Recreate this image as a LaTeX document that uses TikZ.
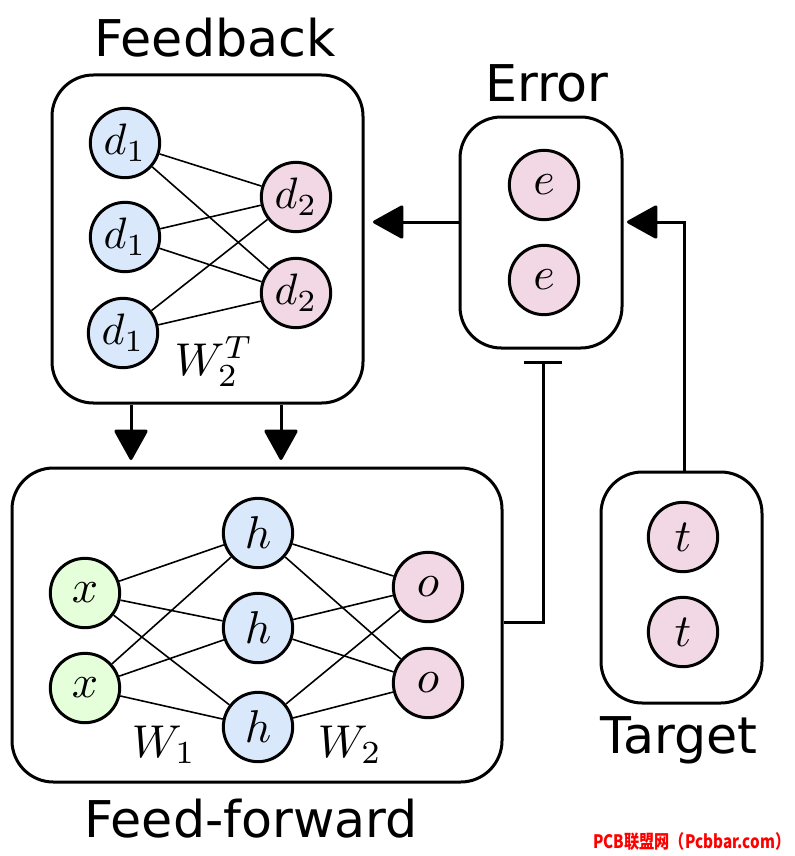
\documentclass[tikz,border=0pt]{standalone}
\usepackage{fontspec}
\newfontfamily\labfont{DejaVu Sans}
\newfontfamily\cjk{Noto Sans CJK SC}
\usetikzlibrary{arrows.meta,fit,calc}
\definecolor{nblue}{RGB}{218,232,252}
\definecolor{npink}{RGB}{242,216,228}
\definecolor{ngreen}{RGB}{228,255,218}
\definecolor{wmred}{RGB}{255,0,0}
\newcommand{\nmath}[1]{\scalebox{3.45}{$#1$}}
\newcommand{\dmath}[1]{\scalebox{3.3}{$#1$}}
\begin{document}
\begin{tikzpicture}[x=0.75pt,y=-0.75pt,
  box/.style={draw,line width=2.25pt,rounded corners=31pt,inner sep=0pt},
  neuron/.style={circle,draw,line width=2.25pt,minimum size=52pt,inner sep=0pt},
  wire/.style={line width=1.2pt},
  title/.style={anchor=base,font=\labfont\fontsize{38}{40}\selectfont},
  wlabel/.style={anchor=base,inner sep=0pt},
  conn/.style={line width=2.25pt},
  arr/.style={conn,-{Triangle[length=24pt,width=26pt,round]}},
  barend/.style={conn,-{Bar[width=28pt]}}]
\useasboundingbox (0,0) rectangle (794,856);

% boxes
\node[box,fit={(52,75) (363,403)}] (fb) {};
\node[box,fit={(460,117) (622,348)}] (err) {};
\node[box,fit={(12,468) (502,782)}] (ff) {};
\node[box,fit={(601,472) (762,703)}] (tg) {};

% titles
\node[title] (tfb) at (215,57) {Feedback};
\node[title] (terr) at (547,102) {Error};
\node[title] (tff) at (251,837) {Feed-forward};
\node[title] (ttg) at (679,753) {Target};

% feedback net
\node[neuron,fill=nblue] (d1a) at (125,143) {\dmath{d_1}};
\node[neuron,fill=nblue] (d1b) at (125,237) {\dmath{d_1}};
\node[neuron,fill=nblue] (d1c) at (123,333) {\dmath{d_1}};
\node[neuron,fill=npink] (d2a) at (296,197) {\dmath{d_2}};
\node[neuron,fill=npink] (d2b) at (296,293) {\dmath{d_2}};
\foreach \a in {d1a,d1b,d1c}{\foreach \b in {d2a,d2b}{\draw[wire] (\a) -- (\b);}}
\node[wlabel] (wt) at (214,375) {\nmath{W_2^T}};

% error
\node[neuron,fill=npink] (e1) at (544,185) {\nmath{e}};
\node[neuron,fill=npink] (e2) at (544,280) {\nmath{e}};

% target
\node[neuron,fill=npink] (t1) at (683,537) {\nmath{t}};
\node[neuron,fill=npink] (t2) at (683,632) {\nmath{t}};

% feed-forward net
\node[neuron,fill=ngreen] (x1) at (85,593) {\nmath{x}};
\node[neuron,fill=ngreen] (x2) at (85,688) {\nmath{x}};
\node[neuron,fill=nblue] (h1) at (258,533) {\nmath{h}};
\node[neuron,fill=nblue] (h2) at (258,628) {\nmath{h}};
\node[neuron,fill=nblue] (h3) at (258,727) {\nmath{h}};
\node[neuron,fill=npink] (o1) at (428,587) {\nmath{o}};
\node[neuron,fill=npink] (o2) at (428,683) {\nmath{o}};
\foreach \a in {x1,x2}{\foreach \b in {h1,h2,h3}{\draw[wire] (\a) -- (\b);}}
\foreach \a in {h1,h2,h3}{\foreach \b in {o1,o2}{\draw[wire] (\a) -- (\b);}}
\node[wlabel] (w1) at (164,757) {\nmath{W_1}};
\node[wlabel] (w2) at (350,757) {\nmath{W_2}};

% connectors
\coordinate (tipfb) at (373,222);
\coordinate (tiperr) at (627,222);
\coordinate (tipff1) at (131,460);
\coordinate (tipff2) at (281,460);
\coordinate (tbar) at (543,361);
\draw[arr] (err.west |- tipfb) -- (tipfb);
\draw[arr] (tg.north -| 684,0) |- (tiperr);
\draw[arr] (fb.south -| tipff1) -- (tipff1);
\draw[arr] (fb.south -| tipff2) -- (tipff2);
\draw[barend] (ff.east |- 0,622) -| (tbar);

% watermark
\node[anchor=base west,inner sep=0pt,text=wmred] (wm) at (593,848)
  {\resizebox{147.75pt}{12pt}{\cjk\bfseries\fontsize{12}{12}\selectfont PCB联盟网（Pcbbar.com）}};
\end{tikzpicture}
\end{document}
